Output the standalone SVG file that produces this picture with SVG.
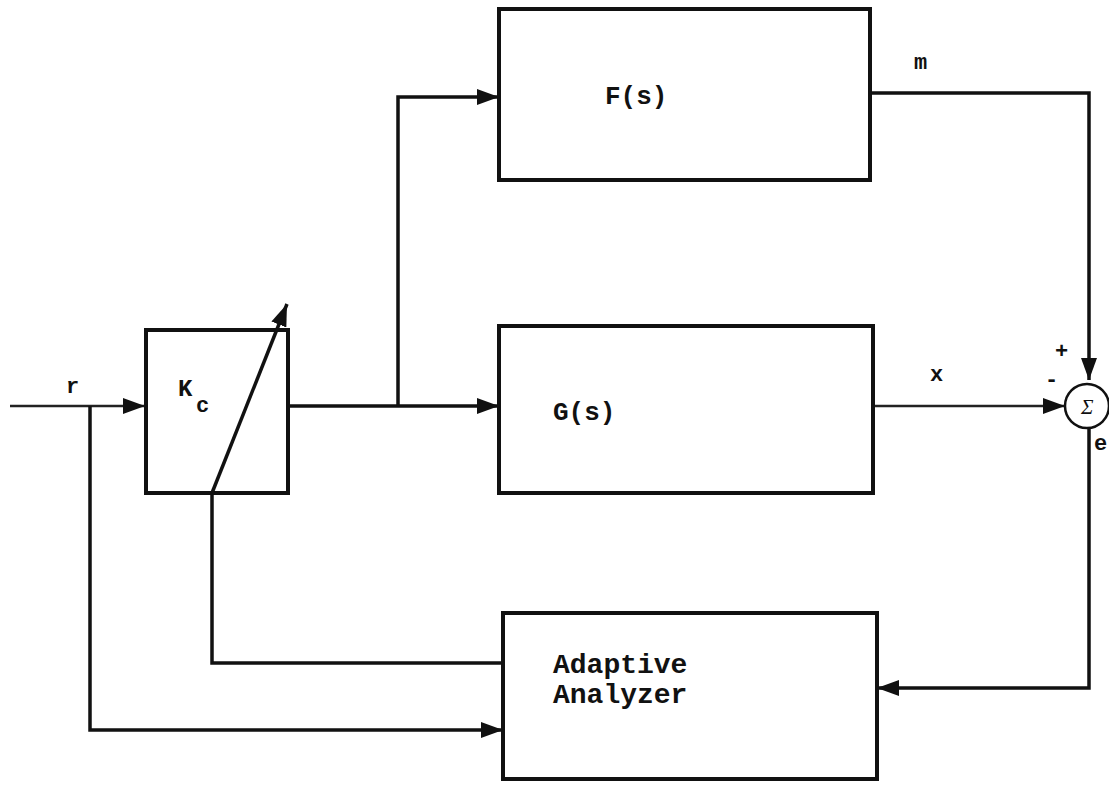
<svg xmlns="http://www.w3.org/2000/svg" width="1109" height="785" viewBox="0 0 1109 785">
<style>
.box{fill:none;stroke:#111;stroke-width:4}
.ln{fill:none;stroke:#111;stroke-width:3.5}
.thin{fill:none;stroke:#222;stroke-width:2.5}
.t{font-family:"Liberation Mono",monospace;font-weight:bold;fill:#111}
</style>
<defs>
<marker id="ah" markerUnits="userSpaceOnUse" markerWidth="24" markerHeight="20" refX="22" refY="9" orient="auto">
<path d="M0,1 L22,9 L0,17 Z" fill="#111"/>
</marker>
</defs>
<rect width="1109" height="785" fill="#fff"/>
<g id="connectors">
<path class="thin" d="M10,406 H145" marker-end="url(#ah)"/>
<path class="ln" d="M90,406 V730 H503" marker-end="url(#ah)"/>
<path class="ln" d="M288,406 H499" marker-end="url(#ah)"/>
<path class="ln" d="M398,406 V97 H499" marker-end="url(#ah)"/>
<path class="ln" d="M870,93 H1089 V380" marker-end="url(#ah)"/>
<path class="thin" d="M873,406 H1065" marker-end="url(#ah)"/>
<path class="ln" d="M1089,428 V688 H877" marker-end="url(#ah)"/>
<path class="ln" d="M503,663 H212 V493"/>
</g>
<g id="kc">
<rect class="box" x="146" y="330" width="142" height="163"/>
<path class="ln" d="M212,493 L287,304" marker-end="url(#ah)"/>
<text class="t" x="178" y="396" font-size="24">K</text>
<text class="t" x="196" y="412" font-size="22">c</text>
</g>
<g id="fs">
<rect class="box" x="499" y="9" width="371" height="171"/>
<text class="t" x="605" y="104" font-size="26">F(s)</text>
</g>
<g id="gs">
<rect class="box" x="499" y="326" width="374" height="167"/>
<text class="t" x="553" y="420" font-size="26" font-weight="normal">G(s)</text>
</g>
<g id="analyzer">
<rect class="box" x="503" y="613" width="374" height="166"/>
<text class="t" x="553" y="673" font-size="28">Adaptive</text>
<text class="t" x="553" y="703" font-size="28">Analyzer</text>
</g>
<g id="sum">
<circle cx="1087" cy="406" r="22" fill="#fff" stroke="#111" stroke-width="2.5"/>
<text x="1081" y="414" font-family="Liberation Serif,serif" font-style="italic" font-size="21" fill="#111">Σ</text>
<text class="t" x="1055" y="358" font-size="22">+</text>
<text class="t" x="1045" y="386" font-size="22">-</text>
<text class="t" x="1094" y="450" font-size="22" font-weight="normal">e</text>
</g>
<g id="labels">
<text class="t" x="66" y="393" font-size="22">r</text>
<text class="t" x="914" y="69" font-size="22">m</text>
<text class="t" x="930" y="381" font-size="22">x</text>
</g>
</svg>
